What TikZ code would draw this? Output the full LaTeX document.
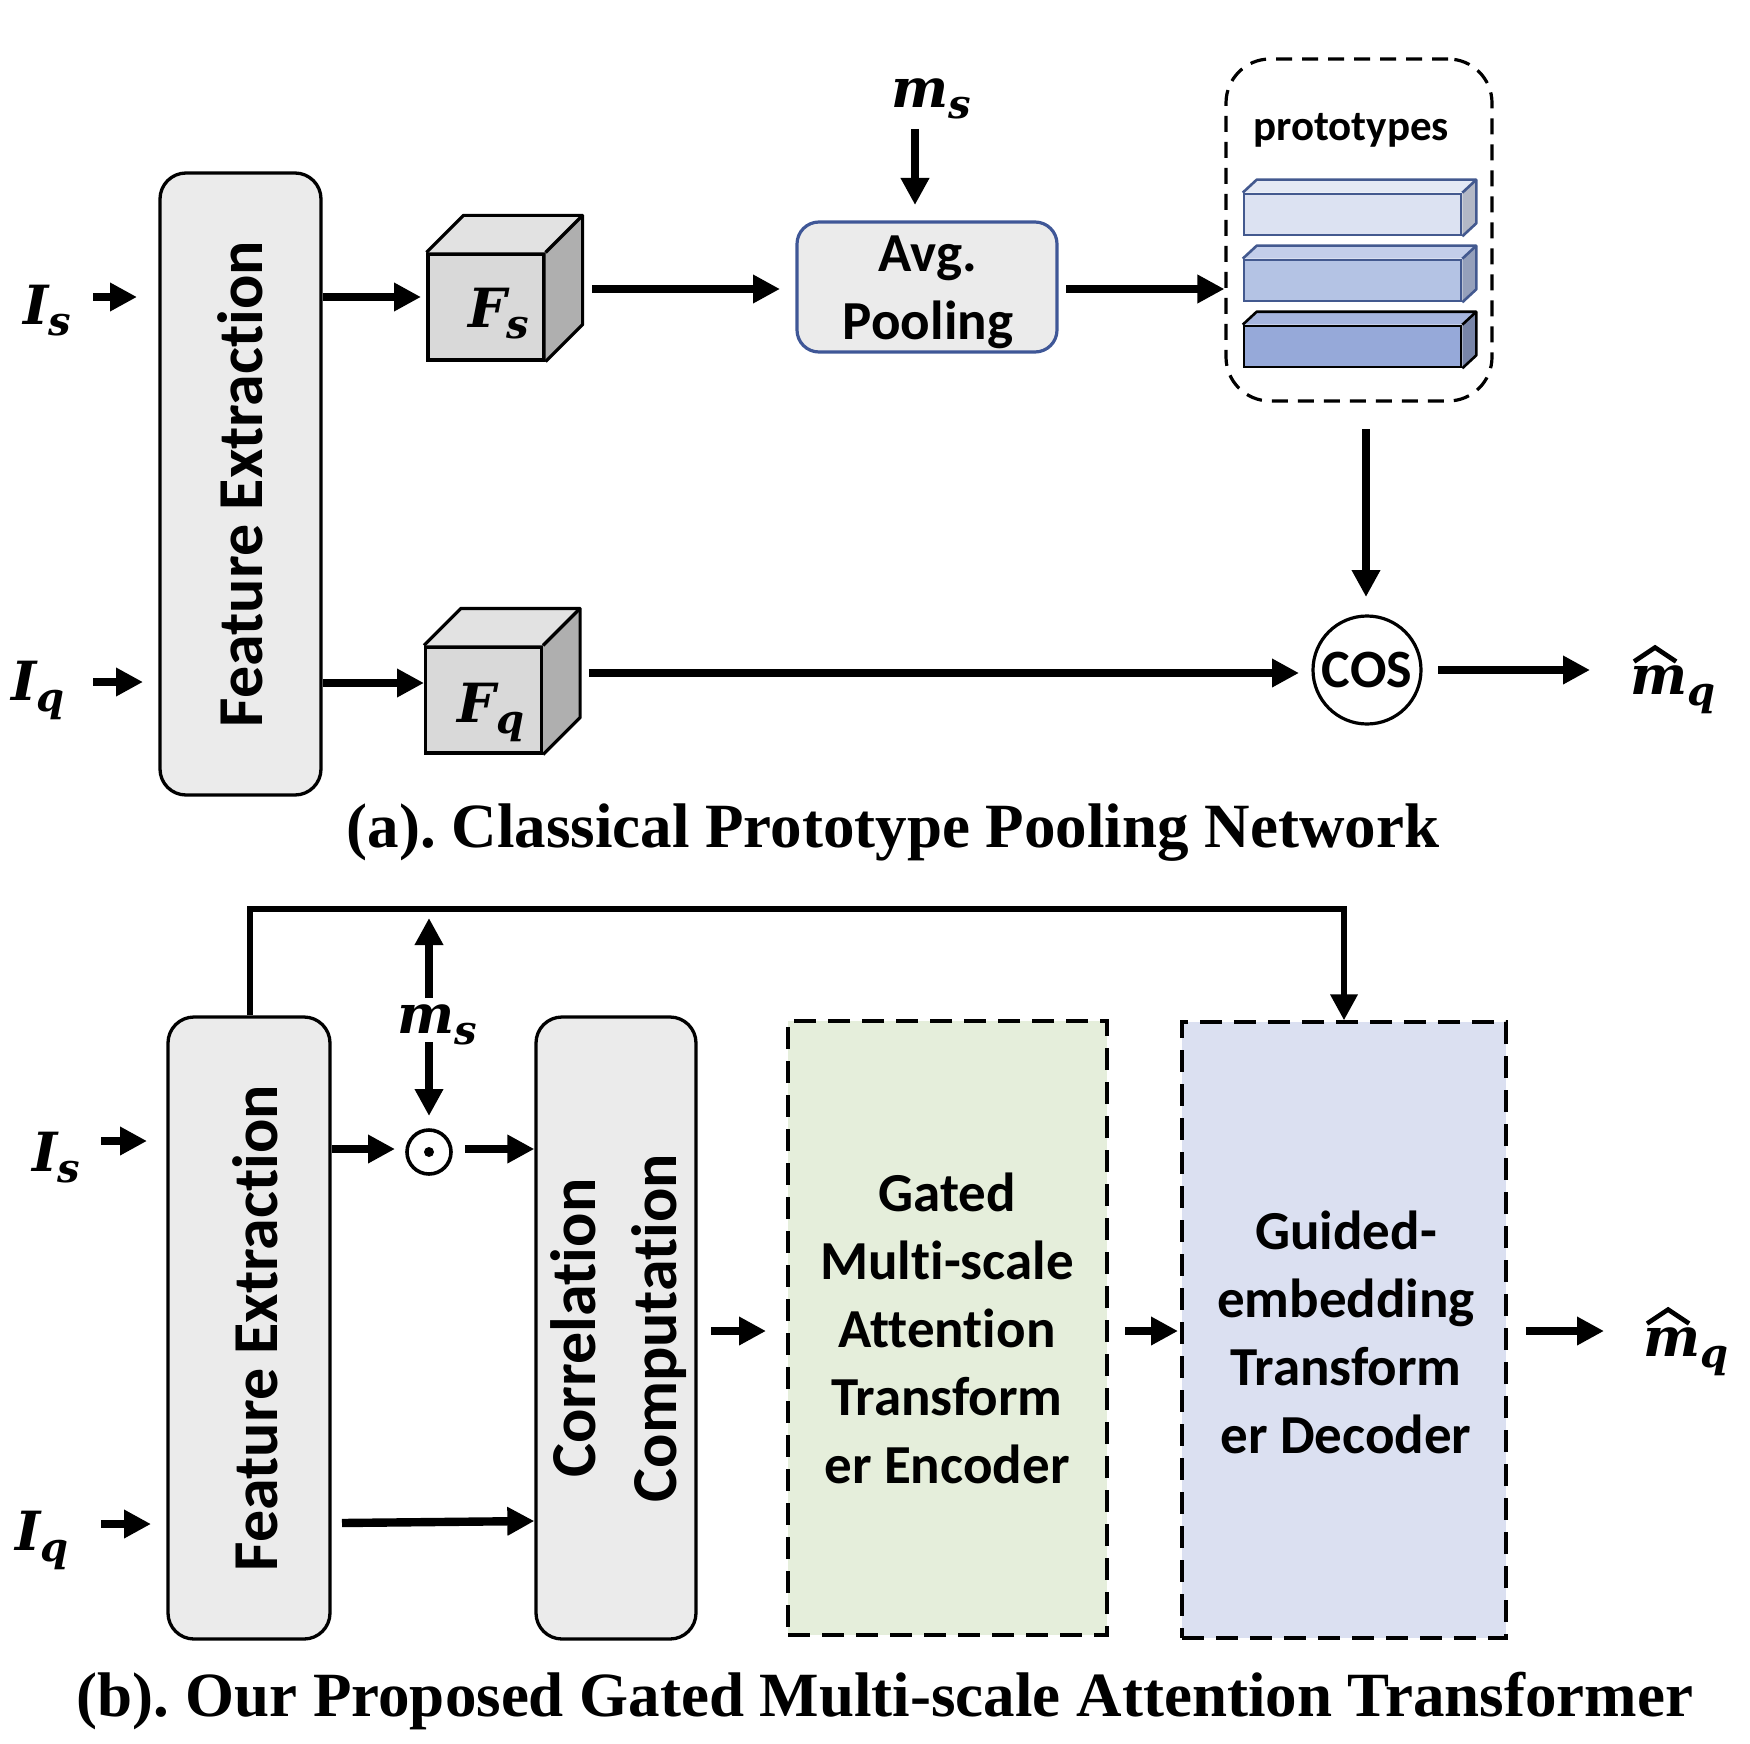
\documentclass[tikz,border=0pt]{standalone}
\usepackage{fontspec}
\setmainfont{Liberation Serif}
\newfontfamily\calib{Carlito}[Ligatures=NoCommon]
\newfontfamily\mfont{DejaVu Serif}
\usetikzlibrary{arrows.meta,calc}
\definecolor{boxgray}{HTML}{EBEBEB}
\definecolor{avgborder}{HTML}{3F5797}
\definecolor{cubefront}{HTML}{D9D9D9}
\definecolor{cubetop}{HTML}{E2E2E2}
\definecolor{cubeside}{HTML}{AFAFAF}
\definecolor{barA}{HTML}{DCE2F2}
\definecolor{barAt}{HTML}{E4E9F5}
\definecolor{barAs}{HTML}{B3B8C6}
\definecolor{barB}{HTML}{B4C3E4}
\definecolor{barBt}{HTML}{C3CEEA}
\definecolor{barBs}{HTML}{95A0BB}
\definecolor{barC}{HTML}{96A9D9}
\definecolor{barCt}{HTML}{A6B5DE}
\definecolor{barCs}{HTML}{7885A8}
\definecolor{barborder}{HTML}{43598F}
\definecolor{encfill}{HTML}{E5EEDB}
\definecolor{decfill}{HTML}{DBE0F1}
\newcommand\vsym[2]{{\mfont\bfseries\itshape\fontsize{27}{30}\selectfont #1\raisebox{-5.5pt}{\fontsize{20}{20}\selectfont #2}}}
\tikzset{
  arr/.style={line width=4.2pt,-{Triangle[length=13.5pt,width=13.5pt]}},
  fbline/.style={line width=3.2pt,line join=miter,-{Triangle[length=13pt,width=13pt]}},
  hatline/.style={line width=2.3pt,line join=miter,line cap=butt},
  grbox/.style={draw,line width=1.65pt,fill=boxgray,rounded corners=13pt,inner sep=0pt},
  dbox/.style={draw,line width=1.6pt,dash pattern=on 11pt off 6pt,inner sep=0pt},
  cubef/.style={draw,line width=1.6pt,fill=cubefront,minimum width=58pt,minimum height=53pt,inner sep=0pt},
  cubeedge/.style={line width=1.6pt,line join=round},
  barf/.style={line width=1.3pt,minimum width=108.5pt,minimum height=20.5pt,inner sep=0pt},
  bigtxt/.style={font=\calib\bfseries\fontsize{32}{40.5}\selectfont,align=center,inner sep=0pt},
  midtxt/.style={font=\calib\bfseries\fontsize{27.5}{34}\selectfont,align=center,inner sep=0pt},
  mathlbl/.style={inner sep=0pt},
  captxt/.style={font=\bfseries\fontsize{31.5}{36}\selectfont\frenchspacing,inner sep=0pt,anchor=base},
}
\newcommand\mycube[1]{%
  \fill[cubetop] (#1.north west) -- ++(37,-37) -- ($(#1.north east)+(37,-37)$) -- (#1.north east) -- cycle;
  \fill[cubeside] (#1.north east) -- ++(37,-37) -- ($(#1.south east)+(37,-37)$) -- (#1.south east) -- cycle;
  \draw[cubeedge] (#1.north west) -- ++(37,-37) -- ($(#1.north east)+(37,-37)$) -- ($(#1.south east)+(37,-37)$) -- (#1.south east);
  \draw[cubeedge] (#1.north east) -- ++(37,-37);
}
\newcommand\mybar[6]{% name, center y, front, top, side, border
  \node[barf,draw=#6,fill=#3] (#1) at (1352.5,#2) {};
  \fill[#4] (#1.north west) -- ++(14,-13) -- ($(#1.north east)+(14,-13)$) -- (#1.north east) -- cycle;
  \fill[#5] (#1.north east) -- ++(14,-13) -- ($(#1.south east)+(14,-13)$) -- (#1.south east) -- cycle;
  \draw[line width=1.3pt,draw=#6,line join=round] (#1.north west) -- ++(14,-13) -- ($(#1.north east)+(14,-13)$) -- ($(#1.south east)+(14,-13)$) -- (#1.south east);
  \draw[line width=1.3pt,draw=#6] (#1.north east) -- ++(14,-13);
}
\newcommand\mhatdraw[1]{%
  \draw[hatline] ($(#1.north west)+(4,-4)$) -- ++(21,-14) -- ++(21,14);
}
\begin{document}
\begin{tikzpicture}[x=0.5pt,y=-0.5pt]
\useasboundingbox (0,0) rectangle (1750,1744);
% ---------------- (a) ----------------
\node[grbox,minimum width=80.5pt,minimum height=311pt] (FEa) at (240.5,484) {};
\node[bigtxt,rotate=90] (FEatxt) at (FEa.center) {Feature Extraction};
\node[mathlbl] (Isa) at (47,311) {\vsym{I}{s}};
\node[mathlbl] (Iqa) at (38,690) {\vsym{I}{q}};
\coordinate (Isat) at (93,297);
\coordinate (Iqat) at (93,682);
\draw[arr] (Isat) -- (137,297);
\draw[arr] (Iqat) -- (143,682);
% cubes
\node[cubef] (Fs) at (486,307) {};
\mycube{Fs}
\node[mathlbl] (Fslbl) at (499,314) {\vsym{F}{s}};
\node[cubef] (Fq) at (483.5,700) {};
\mycube{Fq}
\node[mathlbl] (Fqlbl) at (491,712) {\vsym{F}{q}};
\draw[arr] (FEa.east |- 0,297) -- (421,297);
\draw[arr] (FEa.east |- 0,683) -- (424,683);
% avg pooling
\node[draw=avgborder,line width=1.6pt,fill=boxgray,rounded corners=11pt,minimum width=130pt,minimum height=65pt,inner sep=0pt] (Avg) at (927,287) {};
\node[midtxt] (Avgtxt) at (928,292) {Avg.\\Pooling};
\node[mathlbl] (msa) at (931,99) {\vsym{m}{s}};
\draw[arr] (915,129) -- (915,205);
\draw[arr] (592,289) -- (780,289);
% prototypes
\node[draw,line width=1.6pt,dash pattern=on 8pt off 5pt,rounded corners=22pt,minimum width=133pt,minimum height=171pt,inner sep=0pt] (Proto) at (1359,230) {};
\node[font=\calib\bfseries\fontsize{21.5}{26}\selectfont,inner sep=0pt] (Protolbl) at (1351,130) {prototypes};
\mybar{barone}{214.5}{barA}{barAt}{barAs}{barborder}
\mybar{bartwo}{280.5}{barB}{barBt}{barBs}{barborder}
\mybar{barthree}{346.5}{barC}{barCt}{barCs}{black}
\draw[arr] (1066,289) -- (Proto.west |- 0,289);
% cos
\node[draw,circle,line width=1.6pt,minimum size=54pt,inner sep=0pt,font=\calib\bfseries\fontsize{27}{30}\selectfont] (Cos) at (1367,670) {COS};
\draw[arr] (1366,429) -- (1366,597);
\draw[arr] (589,673) -- (1299,673);
\node[mathlbl] (mqa) at (1673,690) {\vsym{m}{q}};
\mhatdraw{mqa}
\draw[arr] (1438,670) -- (1590,670);
\node[captxt] (capa) at (893,847) {(a). Classical Prototype Pooling Network};
% ---------------- (b) ----------------
\node[grbox,minimum width=81pt,minimum height=311pt] (FEb) at (249,1328) {};
\node[bigtxt,rotate=90] (FEbtxt) at ([xshift=3pt]FEb.center) {Feature Extraction};
\node[grbox,minimum width=80pt,minimum height=311pt] (CC) at (616,1328) {};
\node[bigtxt,rotate=90] (CCtxt) at ([xshift=1.5pt]CC.center) {Correlation\\Computation};
\node[dbox,fill=encfill,minimum width=159.5pt,minimum height=307pt] (Enc) at (947.5,1328) {};
\node[midtxt] (Enctxt) at (947,1328) {Gated\\Multi-scale\\Attention\\Transform\\er Encoder};
\node[dbox,fill=decfill,minimum width=162pt,minimum height=308pt] (Dec) at (1344,1330) {};
\node[midtxt] (Dectxt) at (1346,1332) {Guided-\\embedding\\Transform\\er Decoder};
\draw[fbline] (FEb.north -| 250,0) |- (Dec.north |- 0,909) -- (Dec.north);
\node[mathlbl] (msb) at (437,1025) {\vsym{m}{s}};
\node[draw,circle,line width=1.8pt,minimum size=22pt,inner sep=0pt] (Odot) at (429,1152) {};
\fill (Odot.center) circle (5);
\draw[arr] (429,998) -- (429,918);
\draw[arr] (429,1042) -- (429,1116);
\draw[arr] (FEb.east |- 0,1149) -- (395,1149);
\draw[arr] (465,1149) -- (CC.west |- 0,1149);
\node[mathlbl] (Isb) at (56,1158) {\vsym{I}{s}};
\node[mathlbl] (Iqb) at (42,1540) {\vsym{I}{q}};
\coordinate (Isbt) at (101,1141);
\coordinate (Iqbt) at (101,1524);
\draw[arr] (Isbt) -- (147,1141);
\draw[arr] (Iqbt) -- (151,1524);
\draw[arr] (342,1523) -- (CC.west |- 0,1521);
\draw[arr] (711,1331) -- (766,1331);
\draw[arr] (1125,1331) -- (1178,1331);
\draw[arr] (1526,1331) -- (1604,1331);
\node[mathlbl] (mqb) at (1686,1352) {\vsym{m}{q}};
\mhatdraw{mqb}
\node[captxt] (capb) at (885,1716) {(b). Our Proposed Gated Multi-scale Attention Transformer};
\end{tikzpicture}
\end{document}
